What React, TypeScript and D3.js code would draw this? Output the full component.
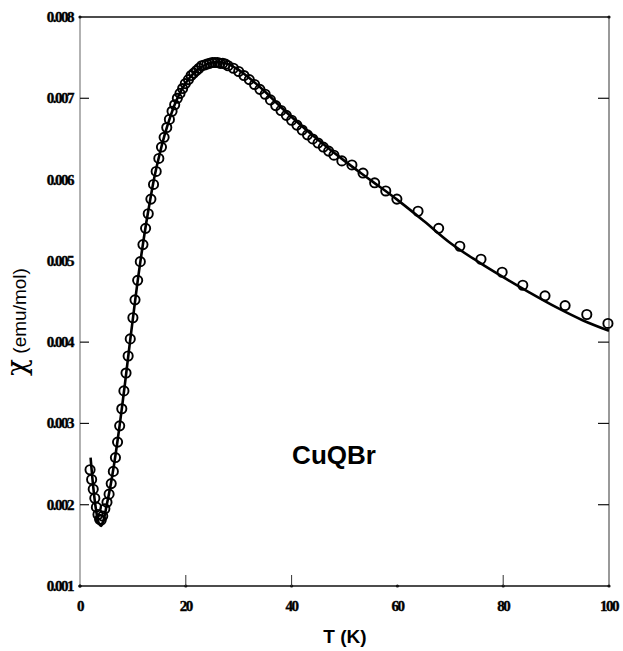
import React from "react";
import * as d3 from "d3";

// Fit curve (solid line)
const fitT = [2, 2.5, 3, 3.5, 4, 4.5, 5, 5.5, 6, 6.5, 7, 7.5, 8, 8.5, 9, 9.5, 10, 10.5, 11, 11.5, 12, 12.5, 13, 14, 15, 16, 17, 18, 19, 20, 22, 24, 26, 28, 30, 32, 35, 38, 40, 45, 50, 55, 60, 65, 70, 75, 80, 85, 90, 95, 100];
const fitChi = [0.00258, 0.00222, 0.00195, 0.00178, 0.00174, 0.00182, 0.00198, 0.00214, 0.00232, 0.00252, 0.00274, 0.00298, 0.00323, 0.00349, 0.00376, 0.00403, 0.00429, 0.00455, 0.0048, 0.00503, 0.00525, 0.00546, 0.00565, 0.00601, 0.0063, 0.00655, 0.00676, 0.00694, 0.00708, 0.00719, 0.00734, 0.00742, 0.00745, 0.00742, 0.00735, 0.00725, 0.00708, 0.00689, 0.00677, 0.00649, 0.00623, 0.00599, 0.00575, 0.00549, 0.00522, 0.005, 0.0048, 0.00461, 0.00443, 0.00427, 0.00414];

// Measured data (open circles)
const dataT = [1.9, 2.2, 2.5, 2.8, 3.1, 3.4, 3.7, 4.0, 4.3, 4.7, 5.1, 5.5, 5.9, 6.3, 6.7, 7.1, 7.5, 7.9, 8.3, 8.7, 9.1, 9.5, 10.0, 10.4, 10.9, 11.4, 11.9, 12.4, 12.9, 13.4, 13.9, 14.4, 14.9, 15.4, 15.9, 16.4, 16.9, 17.4, 17.9, 18.4, 18.9, 19.4, 19.9, 20.5, 21, 21.5, 22, 22.5, 23, 23.5, 24, 24.5, 25, 25.5, 26, 26.5, 27, 27.5, 28, 29, 30, 31, 32, 33, 34, 35, 36, 37, 38, 39, 40, 41, 42, 43, 44, 45, 46, 47, 48, 49.5, 51.4, 53.5, 55.7, 57.8, 59.9, 63.9, 67.8, 71.8, 75.8, 79.8, 83.7, 87.9, 91.7, 95.8, 99.8];
const dataChi = [0.00243, 0.00231, 0.00219, 0.00208, 0.00197, 0.00188, 0.00182, 0.00181, 0.00186, 0.00195, 0.00203, 0.00213, 0.00226, 0.00241, 0.00258, 0.00277, 0.00297, 0.00318, 0.0034, 0.00362, 0.00383, 0.00404, 0.0043, 0.00452, 0.00476, 0.00499, 0.0052, 0.0054, 0.00558, 0.00576, 0.00594, 0.0061, 0.00626, 0.0064, 0.00652, 0.00664, 0.00674, 0.00684, 0.00692, 0.007, 0.00706, 0.00712, 0.00718, 0.00723, 0.00728, 0.00731, 0.00734, 0.00737, 0.0074, 0.00741, 0.00742, 0.00743, 0.00744, 0.00744, 0.00744, 0.00743, 0.00743, 0.00742, 0.0074, 0.00737, 0.00733, 0.00728, 0.00723, 0.00717, 0.00711, 0.00705, 0.00698, 0.00691, 0.00685, 0.00679, 0.00673, 0.00667, 0.00661, 0.00655, 0.0065, 0.00645, 0.0064, 0.00635, 0.0063, 0.00623, 0.00618, 0.00608, 0.00596, 0.00586, 0.00576, 0.00561, 0.0054, 0.00518, 0.00502, 0.00486, 0.0047, 0.00457, 0.00445, 0.00434, 0.00423];

const xTicks = [0, 20, 40, 60, 80, 100];
const xTickLabels = ["0", "20", "40", "60", "80", "100"];
const xInnerTicks = [20, 40, 80];
const yTicks = [0.001, 0.002, 0.003, 0.004, 0.005, 0.006, 0.007, 0.008];
const yTickLabels = ["0.001", "0.002", "0.003", "0.004", "0.005", "0.006", "0.007", "0.008"];
const yInnerTicks = [0.002, 0.003, 0.004, 0.007];

const W = 623;
const H = 651;
const left = 80;
const right = 609;
const top = 17;
const bottom = 586;

export default function App() {
  const x = d3.scaleLinear().domain([0, 100]).range([left, right]);
  const y = d3.scaleLinear().domain([0.001, 0.008]).range([bottom, top]);
  const fit = fitT.map((t, i) => [t, fitChi[i]] as [number, number]);
  const line = d3
    .line<[number, number]>()
    .x((d) => x(d[0]))
    .y((d) => y(d[1]))
    .curve(d3.curveMonotoneX);
  const tickFont = "Liberation Serif";
  return (
    <svg
      width={W}
      height={H}
      style={{ position: "absolute", left: 0, top: 0, background: "#fff" }}
    >
      <rect x={0} y={0} width={W} height={H} fill="#fff" />
      {/* frame */}
      <line x1={left} x2={left} y1={top} y2={bottom} stroke="#999" strokeWidth={1.5} />
      <line x1={right} x2={right} y1={top} y2={bottom} stroke="#555" strokeWidth={1.2} />
      <line x1={left} x2={right} y1={top} y2={top} stroke="#111" strokeWidth={1.5} />
      <line x1={left} x2={right} y1={bottom} y2={bottom} stroke="#111" strokeWidth={1.5} />
      {/* x ticks */}
      {xTicks.map((t) => (
        <circle key={"xd" + t} cx={x(t)} cy={bottom} r={1.6} fill="#111" />
      ))}
      {xInnerTicks.map((t) => (
        <line key={"xt" + t} x1={x(t)} x2={x(t)} y1={bottom} y2={bottom - 11} stroke="#333" strokeWidth={1} />
      ))}
      {xTicks.map((t, i) => (
        <text
          key={"xl" + t}
          x={x(t)}
          y={bottom + 25}
          textAnchor="middle"
          fontFamily={tickFont}
          fontWeight="bold"
          fontSize={15}
          letterSpacing={-1.5}
          stroke="#000"
          strokeWidth={0.4}
        >
          {xTickLabels[i]}
        </text>
      ))}
      {/* y ticks */}
      {yInnerTicks.map((v) => (
        <g key={"yt" + v}>
          <line x1={left} x2={left + 9} y1={y(v)} y2={y(v)} stroke="#111" strokeWidth={1.2} />
          <line x1={right} x2={right - 11} y1={y(v)} y2={y(v)} stroke="#111" strokeWidth={1.2} />
        </g>
      ))}
      <circle cx={left} cy={top} r={1.6} fill="#111" />
      <circle cx={right} cy={top} r={1.6} fill="#111" />
      <circle cx={left} cy={bottom} r={1.6} fill="#111" />
      {yTicks.map((v, i) => (
        <text
          key={"yl" + v}
          x={left - 7}
          y={y(v) + 5}
          textAnchor="end"
          fontFamily={tickFont}
          fontWeight="bold"
          fontSize={15}
          letterSpacing={-1.5}
          stroke="#000"
          strokeWidth={0.4}
        >
          {yTickLabels[i]}
        </text>
      ))}
      {/* fit line */}
      <path d={line(fit) || ""} fill="none" stroke="#000" strokeWidth={2.6} />
      {/* data */}
      {dataT.map((t, i) => (
        <circle
          key={"p" + i}
          cx={x(t)}
          cy={y(dataChi[i])}
          r={4.6}
          fill="none"
          stroke="#000"
          strokeWidth={1.9}
        />
      ))}
      {/* labels */}
      <text
        x={334}
        y={464}
        textAnchor="middle"
        fontFamily="Liberation Sans"
        fontWeight="bold"
        fontSize={26}
      >
        CuQBr
      </text>
      <text
        x={345}
        y={643}
        textAnchor="middle"
        fontFamily="Liberation Sans"
        fontWeight="bold"
        fontSize={19}
      >
        T (K)
      </text>
      <text
        transform={`translate(26, 322) rotate(-90)`}
        textAnchor="middle"
        fontFamily="Liberation Sans"
        fontSize={19}
      >
        <tspan fontSize={28} fontFamily="DejaVu Serif">χ</tspan> (emu/mol)
      </text>
    </svg>
  );
}
